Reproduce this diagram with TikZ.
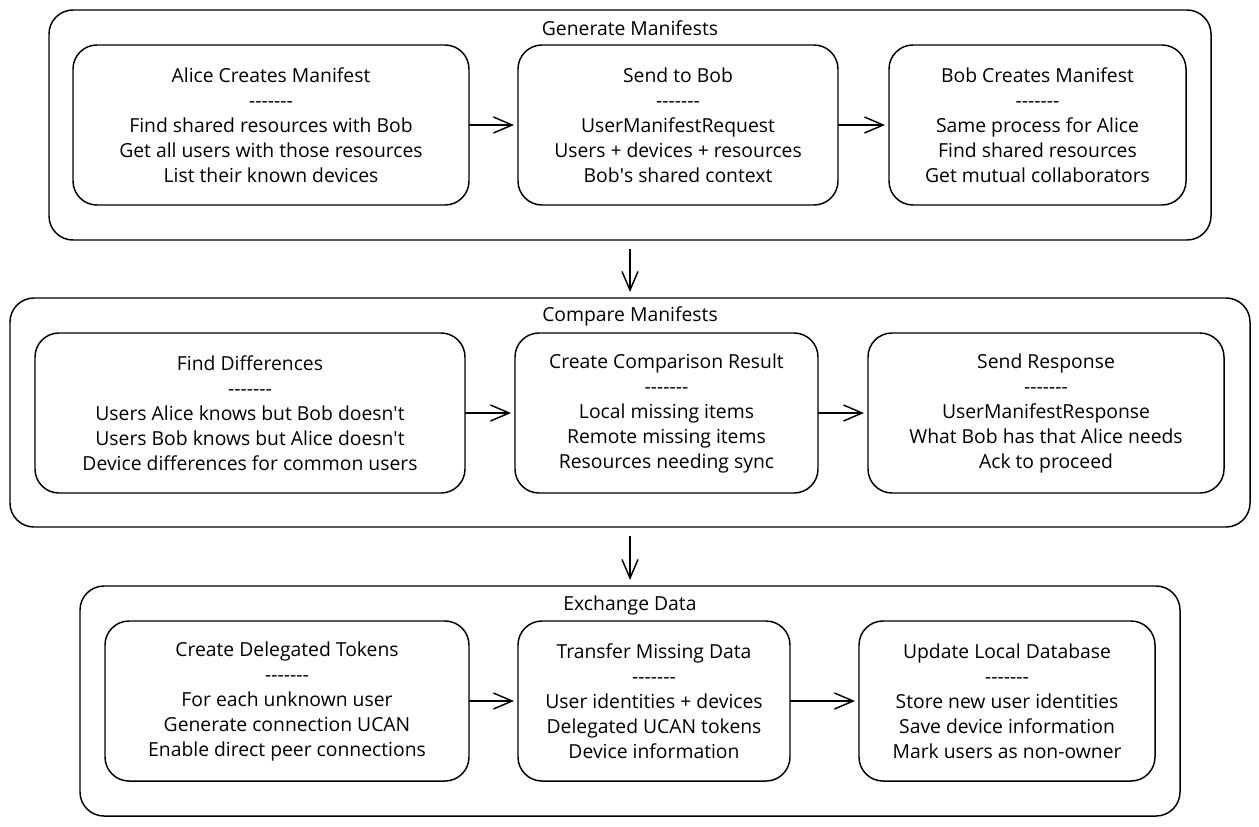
\documentclass[tikz,border=0pt]{standalone}
\usepackage{fontspec}
\setmainfont{Open Sans}
\usetikzlibrary{arrows.meta}
\newcommand\dline{-\kern0pt-\kern0pt-\kern0pt-\kern0pt-\kern0pt-\kern0pt-}
\newcommand\apo{\textquotesingle}
\begin{document}
\begin{tikzpicture}[x=0.75pt,y=-0.75pt,
  outerbox/.style={draw, line width=1.1pt, rounded corners=18pt, inner sep=0pt, outer sep=0pt, minimum height=172.5pt},
  innerbox/.style={draw, line width=1.1pt, rounded corners=18pt, inner sep=0pt, outer sep=0pt, minimum height=120pt, align=center, font=\fontsize{14.5}{18.75}\selectfont},
  title/.style={font=\fontsize{14.5}{18.75}\selectfont, inner sep=0pt},
  arr/.style={line width=1.1pt, -{Straight Barb[length=14pt,width=12pt,line width=1.1pt]}}
]
\useasboundingbox (0,0) rectangle (1259,826);
% outer boxes
\node[outerbox, minimum width=871.5pt] (O1) at (630,125) {};
\node[outerbox, minimum width=930pt, minimum height=171.75pt] (O2) at (630,412.5) {};
\node[outerbox, minimum width=825pt] (O3) at (630,701) {};
\node[title] (T1) at (630,28) {Generate Manifests};
\node[title] (T2) at (630,316) {Compare Manifests};
\node[title] (T3) at (630,605) {Exchange Data};
% row 1
\node[innerbox, minimum width=297pt] (A) at (271,125) {Alice Creates Manifest\\\dline\\Find shared resources with Bob\\Get all users with those resources\\List their known devices};
\node[innerbox, minimum width=240pt] (B) at (678,125) {Send to Bob\\\dline\\UserManifestRequest\\Users + devices + resources\\Bob\apo s shared context};
\node[innerbox, minimum width=222.75pt] (C) at (1037.5,125) {Bob Creates Manifest\\\dline\\Same process for Alice\\Find shared resources\\Get mutual collaborators};
% row 2
\node[innerbox, minimum width=322.5pt] (D) at (250,413) {Find Differences\\\dline\\Users Alice knows but Bob doesn\apo t\\Users Bob knows but Alice doesn\apo t\\Device differences for common users};
\node[innerbox, minimum width=227.25pt] (E) at (666.5,413) {Create Comparison Result\\\dline\\Local missing items\\Remote missing items\\Resources needing sync};
\node[innerbox, minimum width=267pt] (F) at (1046,413) {Send Response\\\dline\\UserManifestResponse\\What Bob has that Alice needs\\Ack to proceed};
% row 3
\node[innerbox, minimum width=273pt] (G) at (287,701) {Create Delegated Tokens\\\dline\\For each unknown user\\Generate connection UCAN\\Enable direct peer connections};
\node[innerbox, minimum width=204pt] (H) at (654,701) {Transfer Missing Data\\\dline\\User identities + devices\\Delegated UCAN tokens\\Device information};
\node[innerbox, minimum width=222pt] (I) at (1007,701) {Update Local Database\\\dline\\Store new user identities\\Save device information\\Mark users as non-owner};
% arrows
\draw[arr, shorten >=3pt] (A) -- (B);
\draw[arr, shorten >=3pt] (B) -- (C);
\draw[arr, shorten >=3pt] (D) -- (E);
\draw[arr, shorten >=3pt] (E) -- (F);
\draw[arr, shorten >=3pt] (G) -- (H);
\draw[arr, shorten >=3pt] (H) -- (I);
\draw[arr, shorten <=6.75pt, shorten >=4.5pt] (O1) -- (O2);
\draw[arr, shorten <=6.75pt, shorten >=4.5pt] (O2) -- (O3);
\end{tikzpicture}
\end{document}
